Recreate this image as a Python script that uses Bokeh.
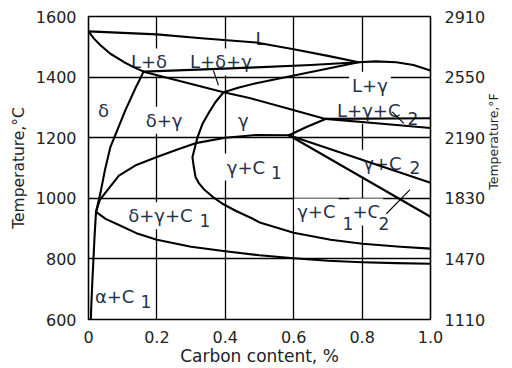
import math
from bokeh.plotting import figure
from bokeh.models import FixedTicker, LinearAxis, ColumnDataSource, Range1d
from bokeh.embed import file_html
from bokeh.resources import INLINE
from bokeh.core.properties import value

# ---------------- data (carbon %, temperature degC) ----------------
x_ticks = [0, 0.2, 0.4, 0.6, 0.8, 1.0]
x_tick_labels = ["0", "0.2", "0.4", "0.6", "0.8", "1.0"]
y_ticks = [600, 800, 1000, 1200, 1400, 1600]
y_tick_labels_c = ["600", "800", "1000", "1200", "1400", "1600"]
y_tick_labels_f = ["1110", "1470", "1830", "2190", "2550", "2910"]

liquidus_x = [0, 0.1, 0.2, 0.33, 0.49, 0.6, 0.7, 0.79, 0.84, 0.9, 0.95, 1.0]
liquidus_t = [1551, 1546, 1541, 1528, 1514, 1492, 1470, 1449, 1452, 1449, 1440, 1422]

delta_sol_x = [0, 0.016, 0.035, 0.064, 0.103, 0.132, 0.161]
delta_sol_t = [1551, 1527, 1505, 1477, 1450, 1433, 1418]

peritectic_x = [0.161, 0.3, 0.49, 0.65, 0.79]
peritectic_t = [1418, 1424, 1432, 1440, 1449]

l_gamma_x = [0.395, 0.44, 0.49, 0.59, 0.69, 0.79]
l_gamma_t = [1350, 1366, 1380, 1403, 1426, 1449]

descend_x = [0.161, 0.395, 0.474, 0.58, 0.693, 0.85, 1.0]
descend_t = [1418, 1350, 1330, 1297, 1262, 1247, 1232]

flat_x = [0.693, 1.0]
flat_t = [1262, 1264]

eut_rise_x = [0.586, 0.639, 0.693]
eut_rise_t = [1208, 1236, 1262]

delta_gamma_x = [0.161, 0.15, 0.137, 0.123, 0.108, 0.086, 0.064, 0.048, 0.035, 0.022]
delta_gamma_t = [1418, 1392, 1363, 1328, 1291, 1230, 1169, 1093, 1018, 955]

solvus_a_x = [0.022, 0.033, 0.056, 0.089, 0.14, 0.2, 0.26, 0.313, 0.4, 0.49, 0.586]
solvus_a_t = [955, 995, 1028, 1075, 1110, 1136, 1161, 1182, 1200, 1209, 1208]

gamma_b_x = [0.395, 0.371, 0.351, 0.333, 0.319, 0.304, 0.307, 0.313, 0.322, 0.339, 0.363,
             0.392, 0.43, 0.474, 0.503, 0.6, 0.708, 0.801, 0.912, 1.0]
gamma_b_t = [1350, 1317, 1281, 1245, 1202, 1136, 1110, 1070, 1051, 1028, 1005,
             982, 959, 936, 919, 886, 863, 850, 840, 834]

lower_c_x = [0.022, 0.05, 0.089, 0.14, 0.2, 0.3, 0.4, 0.5, 0.6, 0.7, 0.8, 0.9, 1.0]
lower_c_t = [955, 932, 912, 885, 863, 840, 825, 812, 802, 794, 789, 786, 784]

alpha_x = [0.022, 0.018, 0.0146, 0.011, 0.008, 0.007]
alpha_t = [955, 880, 803, 720, 640, 600]

eut_upper_x = [0.586, 1.0]
eut_upper_t = [1208, 1051]

eut_lower_x = [0.586, 1.0]
eut_lower_t = [1208, 939]

# region labels: (text, x, T, align)
main_labels = [
    ("L", 0.503, 1528, "center"),
    ("L+\u03b4", 0.177, 1450, "center"),
    ("L+\u03b4+\u03b3", 0.387, 1450, "center"),
    ("\u03b4", 0.044, 1291, "center"),
    ("\u03b4+\u03b3", 0.221, 1258, "center"),
    ("\u03b3", 0.453, 1258, "center"),
    ("L+\u03b3", 0.823, 1373, "center"),
    ("\u03b3+C", 0.525, 1103, "right"),
    ("L+\u03b3+C", 0.921, 1291, "right"),
    ("\u03b3+C", 0.924, 1116, "right"),
    ("\u03b4+\u03b3+C", 0.313, 942, "right"),
    ("\u03b3+C", 0.731, 955, "right"),
    ("+C", 0.763, 955, "left"),
    ("\u03b1+C", 0.143, 676, "right"),
]
sub_labels = [
    ("1", 0.528, 1084),
    ("2", 0.927, 1264),
    ("2", 0.933, 1103),
    ("1", 0.319, 926),
    ("1", 0.737, 916),
    ("2", 0.842, 916),
    ("1", 0.146, 659),
]
leaders = [
    ([0.365, 0.380], [1422, 1373]),
    ([0.888, 0.922], [1285, 1247]),
    ([0.871, 0.940], [949, 1029]),
]
right_title = "Temperature,\u00b0F"
right_title_start = 1028   # where the right-hand title begins (bottom end), in degC

# ---------------- figure ----------------
p = figure(width=512, height=368, output_backend="svg", toolbar_location=None,
           x_range=Range1d(0, 1), y_range=Range1d(600, 1600),
           min_border_left=88, min_border_right=82, min_border_top=16, min_border_bottom=48)
p.background_fill_color = "white"
p.border_fill_color = "white"
p.outline_line_color = "black"
p.outline_line_width = 1.6

FONT = "DejaVu Sans"
TXT = "#222222"
LBL = "#26324a"

baxis = p.below[0]
laxis = p.left[0]

baxis.ticker = FixedTicker(ticks=x_ticks)
baxis.major_label_overrides = {t: s for t, s in zip(x_ticks, x_tick_labels)}
laxis.ticker = FixedTicker(ticks=y_ticks)
laxis.major_label_overrides = {t: s for t, s in zip(y_ticks, y_tick_labels_c)}

raxis = LinearAxis(ticker=FixedTicker(ticks=y_ticks),
                   major_label_overrides={t: s for t, s in zip(y_ticks, y_tick_labels_f)})
p.add_layout(raxis, "right")

# right-hand title, drawn as the single label of an outer axis
rtitle = LinearAxis(ticker=FixedTicker(ticks=[right_title_start]),
                    major_label_overrides={right_title_start: right_title})
p.add_layout(rtitle, "right")

for ax in [baxis, laxis, raxis, rtitle]:
    ax.axis_line_color = None
    ax.major_tick_line_color = None
    ax.minor_tick_line_color = None
    ax.major_label_text_font = FONT
    ax.major_label_text_font_size = "16px"
    ax.major_label_text_color = TXT
    ax.axis_label_text_font = FONT
    ax.axis_label_text_font_style = "normal"
    ax.axis_label_text_color = TXT
baxis.major_label_standoff = 5
laxis.major_label_standoff = 6
raxis.major_label_standoff = 8

rtitle.major_label_text_font_size = "12.5px"
rtitle.major_label_orientation = math.pi / 2
rtitle.major_label_standoff = -1

baxis.axis_label = "Carbon content, %"
baxis.axis_label_text_font_size = "17px"
baxis.axis_label_standoff = 0

laxis.axis_label = "Temperature,\u00b0C"
laxis.axis_label_text_font_size = "15.5px"
laxis.axis_label_standoff = 5

p.xgrid.ticker = FixedTicker(ticks=x_ticks[1:-1])
p.ygrid.ticker = FixedTicker(ticks=y_ticks[1:-1])
for g in [p.xgrid[0], p.ygrid[0]]:
    g.grid_line_color = "black"
    g.grid_line_width = 1.3
    g.grid_line_alpha = 1.0

# region labels with white background (drawn before curves, hide grid lines)
for align in ["center", "right", "left"]:
    rows = [r for r in main_labels if r[3] == align]
    src = ColumnDataSource(dict(x=[r[1] for r in rows], y=[r[2] for r in rows],
                                text=[r[0] for r in rows]))
    p.text(x="x", y="y", text="text", source=src, text_font=value(FONT),
           text_font_size="18px", text_color=LBL, text_align=align,
           text_baseline="alphabetic", background_fill_color="white", padding=3)
src_sub = ColumnDataSource(dict(x=[r[1] for r in sub_labels], y=[r[2] for r in sub_labels],
                                text=[r[0] for r in sub_labels]))
p.text(x="x", y="y", text="text", source=src_sub, text_font=value(FONT),
       text_font_size="17px", text_color=LBL, text_align="left",
       text_baseline="alphabetic", background_fill_color="white", padding=2)

curves = [
    (liquidus_x, liquidus_t), (delta_sol_x, delta_sol_t), (peritectic_x, peritectic_t),
    (l_gamma_x, l_gamma_t), (descend_x, descend_t), (flat_x, flat_t),
    (eut_rise_x, eut_rise_t), (delta_gamma_x, delta_gamma_t), (solvus_a_x, solvus_a_t),
    (gamma_b_x, gamma_b_t), (lower_c_x, lower_c_t), (alpha_x, alpha_t),
    (eut_upper_x, eut_upper_t), (eut_lower_x, eut_lower_t),
]
for cx, ct in curves:
    p.line(cx, ct, line_color="black", line_width=2.1, line_join="round", line_cap="round")

for lx, ly in leaders:
    p.line(lx, ly, line_color="black", line_width=1.1)

open("out.html", "w").write(file_html(p, INLINE))
